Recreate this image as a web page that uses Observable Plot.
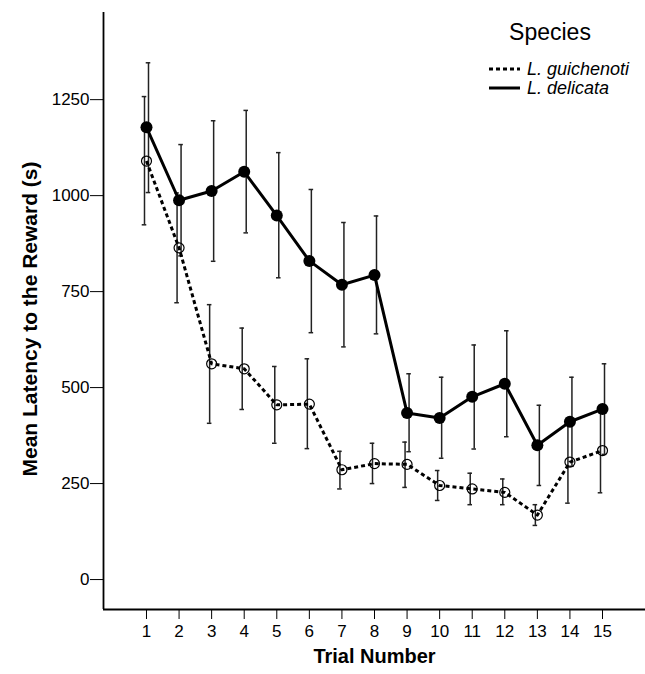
<!DOCTYPE html>
<html>
<head>
<meta charset="utf-8">
<script src="https://cdn.jsdelivr.net/npm/d3@7"></script>
<script src="https://cdn.jsdelivr.net/npm/@observablehq/plot@0.6"></script>
<style>
  html, body { margin: 0; padding: 0; background: #fff; }
  #wrap { position: relative; width: 645px; height: 674px; font-family: "Liberation Sans", Arial, sans-serif; }
  #legend { position: absolute; left: 0; top: 0; width: 645px; height: 100px; pointer-events: none; }
  #legend .title { position: absolute; left: 490px; width: 120px; top: 19px; text-align: center; font-size: 23px; color: #000; }
  #legend .row { position: absolute; left: 488px; display: flex; align-items: center; font-size: 18px; font-style: italic; color: #000; line-height: 20px; }
  #legend .row svg { margin-right: 7px; }
</style>
</head>
<body>
<div id="wrap">
  <div id="chart"></div>
  <div id="legend"></div>
</div>
<script>
// ---- data ----
const trials = [1, 2, 3, 4, 5, 6, 7, 8, 9, 10, 11, 12, 13, 14, 15];

const delicataMean = [1178, 988, 1012, 1062, 948, 830, 768, 793, 434, 421, 476, 510, 350, 411, 444];
const delicataLow  = [1008, 843, 829, 903, 786, 643, 606, 640, 333, 316, 340, 372, 245, 295, 326];
const delicataHigh = [1346, 1133, 1195, 1222, 1112, 1016, 930, 947, 536, 527, 611, 648, 454, 527, 562];

const guichenotiMean = [1090, 864, 562, 549, 455, 457, 286, 302, 300, 245, 236, 227, 168, 306, 336];
const guichenotiLow  = [924, 721, 407, 443, 355, 341, 236, 250, 240, 206, 195, 195, 141, 199, 226];
const guichenotiHigh = [1258, 1007, 716, 655, 555, 575, 334, 355, 358, 284, 277, 262, 195, 413, 446];

const yTicks = [0, 250, 500, 750, 1000, 1250];
const speciesNames = ["L. guichenoti", "L. delicata"];

// ---- build tables ----
const delicata = trials.map((t, i) => ({trial: t, mean: delicataMean[i], lo: delicataLow[i], hi: delicataHigh[i]}));
const guichenoti = trials.map((t, i) => ({trial: t, mean: guichenotiMean[i], lo: guichenotiLow[i], hi: guichenotiHigh[i]}));

const xDomain = [-0.32, 16.32];
const yDomain = [-78, 1477];
const capHalf = 0.07;
const barColor = "#222";

function errorMarks(data, dx) {
  return [
    Plot.ruleX(data, {x: "trial", y1: "lo", y2: "hi", dx, stroke: barColor, strokeWidth: 1.5}),
    Plot.ruleY(data, {y: "hi", x1: d => d.trial - capHalf, x2: d => d.trial + capHalf, dx, stroke: barColor, strokeWidth: 1.5}),
    Plot.ruleY(data, {y: "lo", x1: d => d.trial - capHalf, x2: d => d.trial + capHalf, dx, stroke: barColor, strokeWidth: 1.5})
  ];
}

const chart = Plot.plot({
  width: 645,
  height: 674,
  marginLeft: 103,
  marginRight: 0,
  marginTop: 12,
  marginBottom: 65,
  style: {fontFamily: "'Liberation Sans', Arial, sans-serif", color: "#000", background: "#fff"},
  x: {domain: xDomain},
  y: {domain: yDomain},
  marks: [
    Plot.axisY({ticks: yTicks, tickSize: 13, tickPadding: 1, fontSize: 17, label: null, tickFormat: d => String(d)}),
    Plot.axisX({ticks: trials, tickSize: 10, tickPadding: 5, fontSize: 17, label: null, tickFormat: d => String(d)}),
    Plot.ruleX([xDomain[0]], {strokeWidth: 1.8, stroke: "#000"}),
    Plot.ruleY([yDomain[0]], {strokeWidth: 1.8, stroke: "#000"}),
    Plot.text(["Mean Latency to the Reward (s)"], {frameAnchor: "left", dx: -73, dy: 8, rotate: -90, fontSize: 21, fontWeight: "bold", textAnchor: "middle"}),
    Plot.text(["Trial Number"], {frameAnchor: "bottom", dy: 53, fontSize: 20, fontWeight: "bold"}),
    ...errorMarks(guichenoti, -2),
    ...errorMarks(delicata, 2),
    Plot.line(guichenoti, {x: "trial", y: "mean", stroke: "#000", strokeWidth: 3, strokeDasharray: "4,3", strokeLinecap: "butt"}),
    Plot.line(delicata, {x: "trial", y: "mean", stroke: "#000", strokeWidth: 3}),
    Plot.dot(guichenoti, {x: "trial", y: "mean", r: 5, fill: "none", stroke: "#000", strokeWidth: 1.2}),
    Plot.dot(delicata, {x: "trial", y: "mean", r: 6, fill: "#000", stroke: "none"})
  ]
});
document.getElementById("chart").appendChild(chart);

// ---- legend ----
const legend = document.getElementById("legend");
const title = document.createElement("div");
title.className = "title";
title.textContent = "Species";
legend.appendChild(title);
const styles = [{dash: "4,3"}, {dash: null}];
speciesNames.forEach((name, i) => {
  const row = document.createElement("div");
  row.className = "row";
  row.style.top = (59 + i * 19) + "px";
  const dashAttr = styles[i].dash ? `stroke-dasharray="${styles[i].dash}"` : "";
  row.innerHTML = `<svg width="32" height="6"><line x1="1" x2="32" y1="3" y2="3" stroke="#000" stroke-width="3" ${dashAttr}/></svg><span>${name}</span>`;
  legend.appendChild(row);
});
</script>
</body>
</html>
